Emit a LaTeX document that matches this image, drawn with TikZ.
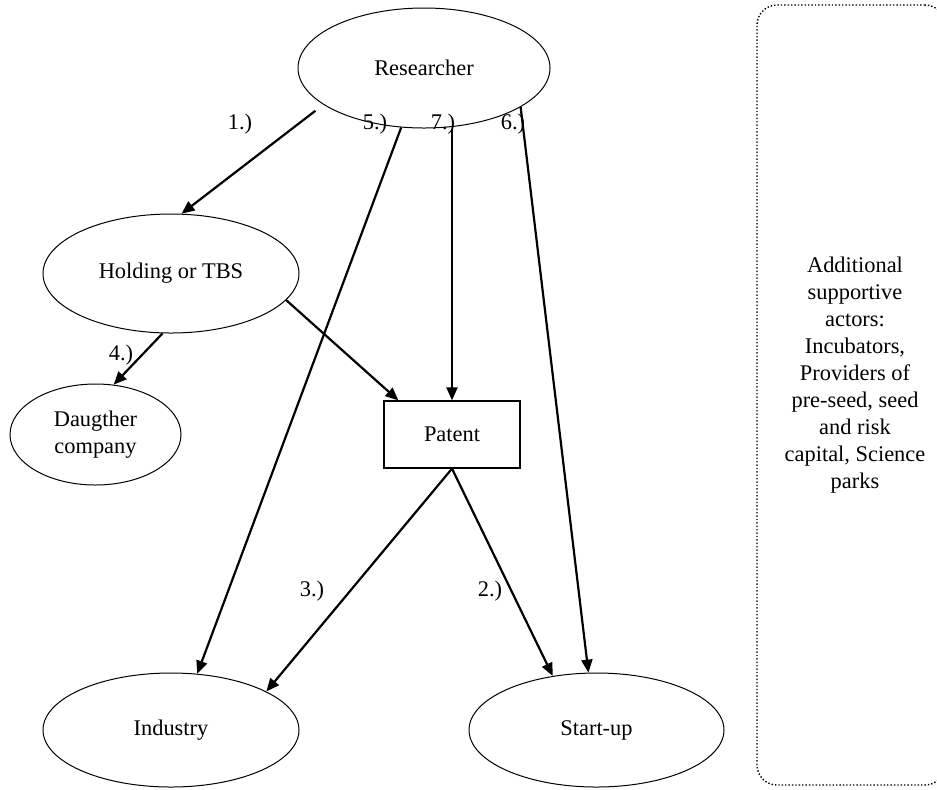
\documentclass[tikz,border=0pt]{standalone}
\usepackage{fontspec}
\setmainfont{Liberation Serif}
\usetikzlibrary{arrows.meta,shapes.geometric,calc}

\begin{document}
\begin{tikzpicture}[
  x=.5pt,y=-.5pt,>={Triangle[length=6.5pt,width=5.5pt]},
  font=\fontsize{11.2}{13.5}\selectfont,
  actor/.style={ellipse,draw=black,line width=.5pt,inner sep=0pt,align=center},
  asset/.style={rectangle,draw=black,line width=.6pt,inner sep=0pt},
  flow/.style={->,black,line width=1.1pt},
  flowlabel/.style={inner sep=0pt},
  sidebox/.style={draw=black,densely dotted,line width=.7pt,rounded corners=10pt,inner sep=0pt}
]
\useasboundingbox (0,0) rectangle (937,789);
\node[actor,minimum width=126pt,minimum height=60pt] (res) at (424,68) {Researcher};
\node[actor,minimum width=128pt,minimum height=59.5pt] (hold) at (171,273.5) {Holding or TBS};
\node[actor,minimum width=85.5pt,minimum height=50.5pt] (dau) at (95.5,434.5) {Daugther\\company};
\node[asset,minimum width=68pt,minimum height=33.5pt] (pat) at (452,434.5) {Patent};
\node[actor,minimum width=128pt,minimum height=57pt] (ind) at (171,730) {Industry};
\node[actor,minimum width=127.5pt,minimum height=57pt] (st) at (596.5,730) {Start-up};
\node[sidebox,minimum width=94pt,minimum height=390pt] (side) at (851,395) {};
\node[align=center,inner sep=0pt] (sidetext) at (855,375) {Additional\\supportive\\actors:\\Incubators,\\Providers of\\pre-seed, seed\\and risk\\capital, Science\\parks};

\draw[flow,shorten <=5pt] (res.200) -- (hold.80.5);
\draw[flow] (res.249) -- (ind.65.5);
\draw[flow] (pat.north |- res.south) -- (pat.north);
\draw[flow] (res.338.5) -- (st.98);
\draw[flow] (hold.-13) -- ([xshift=7.5pt]pat.north west);
\draw[flow] (hold.262) -- (dau.70);
\draw[flow] (pat.south) -- (ind.22.5);
\draw[flow] (pat.south) -- (st.129);

\node[flowlabel] (l1) at (240,124) {1.)};
\node[flowlabel] (l5) at (375,124) {5.)};
\node[flowlabel] (l7) at (443,124) {7.)};
\node[flowlabel] (l6) at (513,124) {6.)};
\node[flowlabel] (l4) at (121,355) {4.)};
\node[flowlabel] (l3) at (312,591) {3.)};
\node[flowlabel] (l2) at (490,591) {2.)};
\end{tikzpicture}
\end{document}
